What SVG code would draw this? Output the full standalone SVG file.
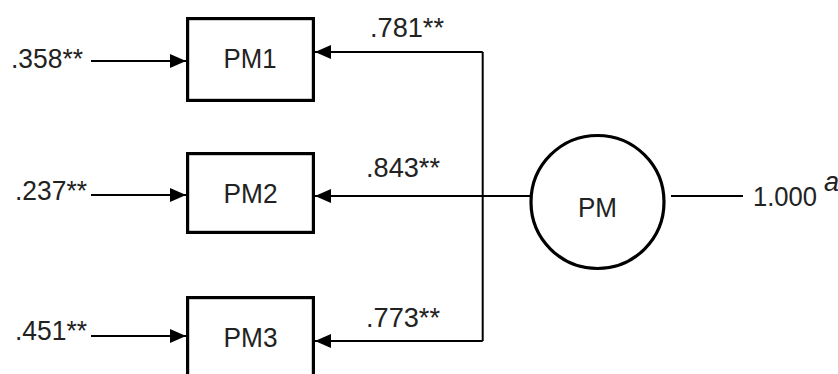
<svg xmlns="http://www.w3.org/2000/svg" width="838" height="374" viewBox="0 0 838 374">
<style>
.box{fill:#fff;stroke:#000;stroke-width:3.2}
.ln{fill:none;stroke:#000;stroke-width:2}
text{font-family:"Liberation Sans",Arial,sans-serif;font-size:27px;fill:#222}
</style>
<defs>
<marker id="ah" viewBox="0 0 16 14" refX="16" refY="7" markerWidth="16" markerHeight="14" markerUnits="userSpaceOnUse" orient="auto">
<path d="M0,0 L16,7 L0,14 Z" fill="#000"/>
</marker>
</defs>
<rect width="838" height="374" fill="#fff"/>
<g id="connectors">
<line class="ln" x1="91" y1="61" x2="186" y2="61" marker-end="url(#ah)"/>
<line class="ln" x1="91" y1="195" x2="186" y2="195" marker-end="url(#ah)"/>
<line class="ln" x1="91" y1="336" x2="186" y2="336" marker-end="url(#ah)"/>
<polyline class="ln" points="482.7,52 482.7,341" />
<line class="ln" x1="482.7" y1="52" x2="315" y2="52" marker-end="url(#ah)"/>
<line class="ln" x1="530" y1="196" x2="315" y2="196" marker-end="url(#ah)"/>
<line class="ln" x1="482.7" y1="341" x2="315" y2="341" marker-end="url(#ah)"/>
<line class="ln" x1="671" y1="196" x2="743" y2="196"/>
<text x="11" y="68" textLength="72" lengthAdjust="spacingAndGlyphs">.358**</text>
<text x="15" y="200" textLength="72" lengthAdjust="spacingAndGlyphs">.237**</text>
<text x="15" y="340" textLength="72" lengthAdjust="spacingAndGlyphs">.451**</text>
<text x="370" y="37" textLength="74" lengthAdjust="spacingAndGlyphs">.781**</text>
<text x="366" y="177" textLength="74" lengthAdjust="spacingAndGlyphs">.843**</text>
<text x="366" y="327" textLength="74" lengthAdjust="spacingAndGlyphs">.773**</text>
<text x="753" y="206" textLength="64" lengthAdjust="spacingAndGlyphs">1.000</text>
<text x="824" y="191" font-family="Liberation Serif,serif" font-style="italic" font-size="16">a</text>
</g>
<g id="PM1">
<rect class="box" x="187.6" y="18.6" width="125.8" height="81.8"/>
<text x="223.5" y="68" textLength="53" lengthAdjust="spacingAndGlyphs">PM1</text>
</g>
<g id="PM2">
<rect class="box" x="187.6" y="153.6" width="125.8" height="78.8"/>
<text x="223.5" y="202.5" textLength="54" lengthAdjust="spacingAndGlyphs">PM2</text>
</g>
<g id="PM3">
<rect class="box" x="187.6" y="297.6" width="125.8" height="90"/>
<text x="223.5" y="347" textLength="54" lengthAdjust="spacingAndGlyphs">PM3</text>
</g>
<g id="PM">
<circle class="box" cx="597.5" cy="202" r="66.5"/>
<text x="578" y="216.5" textLength="39" lengthAdjust="spacingAndGlyphs">PM</text>
</g>
</svg>
